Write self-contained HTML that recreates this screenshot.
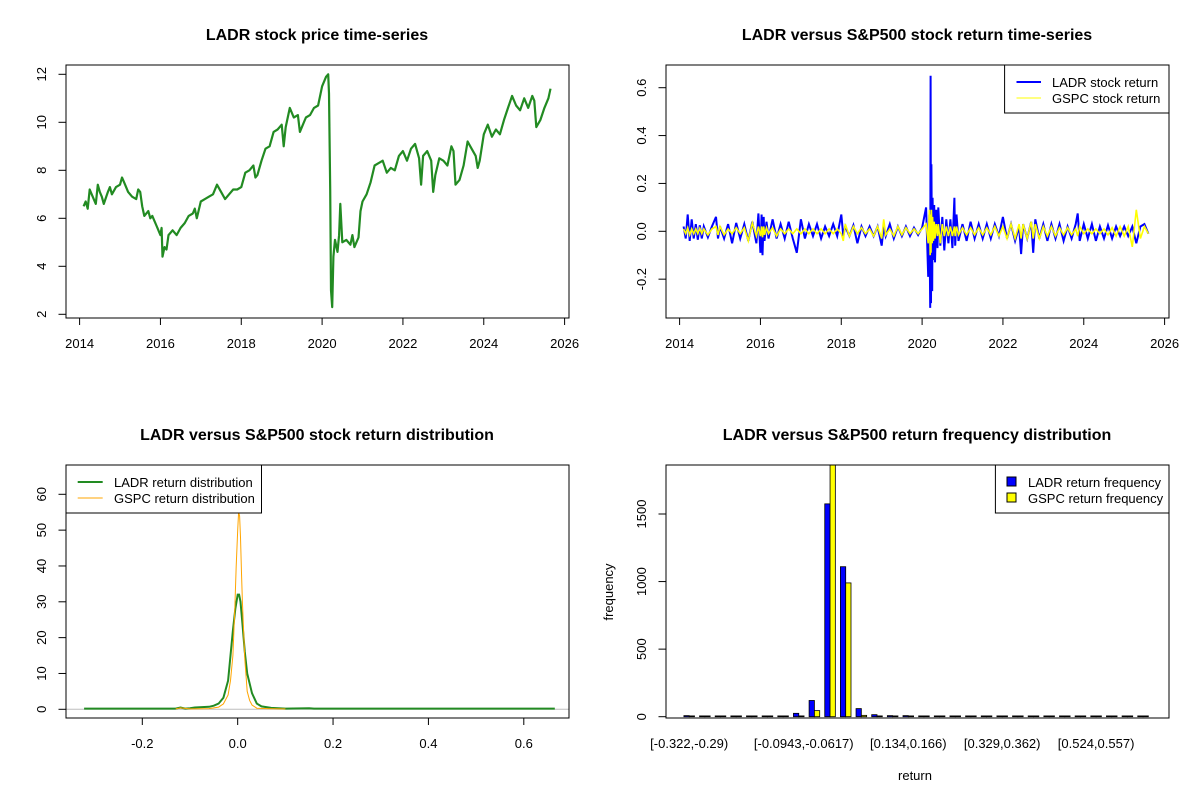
<!DOCTYPE html>
<html><head><meta charset="utf-8"><style>
body{margin:0;background:#fff;}
svg{display:block;font-family:"Liberation Sans",Arial,sans-serif;}
.t{font-weight:bold;font-size:16px;text-anchor:middle;}
.tk{font-size:13px;}
</style></head><body>
<svg id="c" width="1200" height="800" viewBox="0 0 1200 800">
<rect width="1200" height="800" fill="#fff"/>
</svg>
<script>
// ---- data ----
const priceTimes = [2014.1,2014.15,2014.2,2014.25,2014.3,2014.4,2014.45,2014.5,2014.55,2014.6,2014.7,2014.75,2014.8,2014.9,2015.0,2015.05,2015.1,2015.2,2015.3,2015.4,2015.45,2015.5,2015.55,2015.6,2015.7,2015.75,2015.8,2015.9,2016.0,2016.03,2016.05,2016.1,2016.15,2016.2,2016.3,2016.4,2016.5,2016.6,2016.7,2016.8,2016.85,2016.9,2017.0,2017.1,2017.2,2017.3,2017.4,2017.5,2017.6,2017.7,2017.8,2017.9,2018.0,2018.1,2018.2,2018.3,2018.35,2018.4,2018.5,2018.6,2018.7,2018.8,2018.9,2019.0,2019.05,2019.1,2019.2,2019.3,2019.4,2019.45,2019.5,2019.6,2019.7,2019.8,2019.9,2020.0,2020.1,2020.15,2020.17,2020.2,2020.22,2020.25,2020.28,2020.32,2020.38,2020.42,2020.45,2020.5,2020.6,2020.7,2020.75,2020.8,2020.9,2020.95,2021.0,2021.1,2021.2,2021.3,2021.4,2021.5,2021.6,2021.7,2021.8,2021.9,2022.0,2022.1,2022.2,2022.3,2022.4,2022.45,2022.5,2022.6,2022.7,2022.75,2022.8,2022.9,2023.0,2023.1,2023.2,2023.25,2023.3,2023.4,2023.5,2023.6,2023.7,2023.8,2023.85,2023.9,2024.0,2024.1,2024.2,2024.3,2024.4,2024.5,2024.6,2024.7,2024.8,2024.9,2025.0,2025.1,2025.2,2025.25,2025.3,2025.4,2025.5,2025.6,2025.65];
const priceValues = [6.5,6.7,6.4,7.2,7.0,6.6,7.4,7.1,6.9,6.6,7.1,7.3,7.0,7.3,7.4,7.7,7.5,7.1,6.9,6.8,7.2,7.1,6.5,6.1,6.3,6.0,6.1,5.7,5.3,5.6,4.4,4.8,4.7,5.3,5.5,5.3,5.6,5.8,6.1,6.2,6.4,6.0,6.7,6.8,6.9,7.0,7.4,7.1,6.8,7.0,7.2,7.2,7.3,7.9,8.0,8.2,7.7,7.8,8.4,8.9,9.0,9.6,9.7,9.9,9.0,9.8,10.6,10.2,10.3,9.6,9.8,10.2,10.3,10.6,10.7,11.5,11.9,12.0,11.2,7.2,3.0,2.3,4.4,5.1,4.6,5.3,6.6,5.0,5.1,4.9,5.3,4.8,5.2,6.3,6.7,7.0,7.5,8.2,8.3,8.4,7.9,8.1,8.0,8.6,8.8,8.4,8.9,9.1,8.5,7.4,8.6,8.8,8.4,7.1,7.8,8.5,8.4,8.2,9.0,8.8,7.4,7.6,8.2,9.2,8.9,8.6,8.1,8.4,9.5,9.9,9.4,9.7,9.5,10.1,10.6,11.1,10.7,10.5,11.0,10.6,11.1,10.9,9.8,10.1,10.6,11.0,11.4];

const retTimes = [2014.1,2014.15,2014.2,2014.25,2014.3,2014.35,2014.4,2014.45,2014.5,2014.55,2014.6,2014.7,2014.8,2014.9,2014.95,2015.0,2015.1,2015.2,2015.3,2015.4,2015.5,2015.6,2015.7,2015.8,2015.9,2015.95,2016.0,2016.03,2016.05,2016.08,2016.1,2016.15,2016.2,2016.3,2016.4,2016.5,2016.6,2016.7,2016.8,2016.9,2017.0,2017.1,2017.2,2017.3,2017.4,2017.5,2017.6,2017.7,2017.8,2017.9,2018.0,2018.05,2018.1,2018.2,2018.3,2018.4,2018.5,2018.6,2018.7,2018.8,2018.9,2019.0,2019.05,2019.1,2019.2,2019.3,2019.4,2019.5,2019.6,2019.7,2019.8,2019.9,2020.0,2020.1,2020.15,2020.18,2020.2,2020.21,2020.22,2020.23,2020.25,2020.26,2020.28,2020.3,2020.32,2020.35,2020.38,2020.4,2020.45,2020.5,2020.55,2020.6,2020.65,2020.7,2020.75,2020.8,2020.82,2020.85,2020.9,2021.0,2021.1,2021.2,2021.3,2021.4,2021.5,2021.6,2021.7,2021.8,2021.9,2022.0,2022.1,2022.2,2022.3,2022.4,2022.45,2022.5,2022.6,2022.7,2022.75,2022.8,2022.9,2023.0,2023.1,2023.2,2023.3,2023.4,2023.5,2023.6,2023.7,2023.8,2023.85,2023.9,2024.0,2024.1,2024.2,2024.3,2024.4,2024.5,2024.6,2024.7,2024.8,2024.9,2025.0,2025.1,2025.2,2025.3,2025.4,2025.5,2025.6,2025.65];
const ladrReturns = [0.02,-0.03,0.07,-0.04,0.05,-0.03,0.03,-0.035,0.025,-0.03,0.02,-0.025,0.02,0.06,-0.03,0.02,-0.03,0.03,-0.05,0.035,-0.03,0.03,-0.04,0.04,-0.05,0.075,-0.09,0.07,-0.1,0.06,-0.04,0.04,-0.03,0.05,-0.03,0.03,-0.03,0.04,-0.03,-0.09,0.05,-0.03,0.03,-0.02,0.03,-0.03,0.02,-0.02,0.03,-0.02,0.07,-0.02,0.02,-0.02,0.025,-0.05,0.02,-0.02,0.02,-0.02,0.02,-0.06,0.02,-0.02,0.03,-0.03,0.02,-0.02,0.02,-0.02,0.015,-0.015,0.015,0.1,-0.19,0.07,-0.32,0.65,-0.3,0.28,-0.25,0.14,-0.12,0.11,-0.13,0.09,-0.07,0.1,-0.06,0.06,-0.08,0.05,-0.05,0.05,-0.07,0.14,-0.06,0.07,-0.04,0.03,-0.04,0.04,-0.03,0.03,-0.03,0.03,-0.03,0.03,-0.02,0.06,-0.03,0.03,-0.04,0.02,-0.095,0.03,-0.03,0.04,-0.09,0.05,-0.03,0.03,-0.04,0.03,-0.03,0.03,-0.04,0.02,-0.03,0.03,0.075,-0.04,0.03,-0.03,0.03,-0.04,0.02,-0.03,0.025,-0.03,0.02,-0.02,0.02,-0.02,0.02,-0.05,0.02,0.03,-0.01];
const gspcReturns = [0.01,-0.01,0.015,-0.015,0.01,-0.01,0.01,-0.01,0.012,-0.01,0.01,-0.015,0.01,0.02,-0.015,0.02,-0.015,0.01,-0.01,0.015,-0.01,0.015,-0.04,0.035,-0.02,0.02,-0.02,0.02,-0.025,0.02,-0.015,0.015,-0.01,0.015,-0.02,0.01,-0.01,0.01,-0.01,0.01,-0.01,0.01,-0.01,0.01,-0.01,0.01,-0.01,0.01,-0.01,0.01,-0.01,-0.04,0.03,-0.02,0.02,-0.01,0.015,-0.01,0.01,-0.02,0.02,-0.03,0.05,-0.015,0.01,-0.02,0.02,-0.015,0.015,-0.01,0.01,-0.01,0.01,0.03,-0.05,0.09,-0.1,0.07,-0.09,0.09,-0.05,0.06,-0.04,0.04,-0.03,0.03,-0.02,0.03,-0.05,0.03,-0.02,0.02,-0.02,0.02,-0.02,0.02,-0.02,0.02,-0.015,0.015,-0.015,0.015,-0.015,0.015,-0.015,0.015,-0.015,0.02,-0.02,0.02,-0.03,0.03,-0.03,0.03,-0.03,0.03,-0.03,0.04,-0.03,0.03,-0.03,0.02,-0.02,0.02,-0.02,0.015,-0.015,0.015,-0.015,0.01,-0.02,0.02,-0.01,0.01,-0.01,0.01,-0.01,0.01,-0.015,0.015,-0.02,0.02,-0.02,0.02,-0.065,0.09,-0.03,0.02,-0.01];

const ladrDensX = [-0.322,-0.13,-0.12,-0.11,-0.1,-0.09,-0.06,-0.05,-0.04,-0.03,-0.02,-0.015,-0.01,-0.005,0.0,0.003,0.006,0.01,0.015,0.02,0.03,0.04,0.05,0.07,0.1,0.15,0.16,0.665];
const ladrDensY = [0.2,0.2,0.5,0.2,0.3,0.5,0.7,1.0,1.6,3.2,8,15,22,28,32,32,30,24,16,10,4.5,1.6,0.8,0.4,0.2,0.3,0.2,0.2];
const gspcDensX = [-0.13,-0.12,-0.1,-0.06,-0.04,-0.03,-0.02,-0.015,-0.01,-0.006,-0.003,0.0,0.002,0.004,0.006,0.008,0.01,0.015,0.02,0.025,0.03,0.04,0.06,0.09,0.1];
const gspcDensY = [0.1,0.4,0.1,0.2,0.6,1.5,4,8,15,28,40,50,55,54,48,38,30,14,5,2.5,1.2,0.3,0.2,0.1,0.1];

const binLabels = ["[-0.322,-0.29)","[-0.0943,-0.0617)","[0.134,0.166)","[0.329,0.362)","[0.524,0.557)"];
const binLabelIdx = [0,7,14,20,26];
const ladrFreq = [8,0,0,0,0,5,5,25,120,1575,1110,60,15,8,8,0,0,0,0,0,0,0,0,0,0,0,0,0,0,0];
const gspcFreq = [0,0,0,0,0,0,0,2,45,1870,990,10,5,3,0,0,0,0,0,0,0,0,0,0,0,0,0,0,0,0];

// ---- drawing ----
const svg = document.getElementById('c');
const NS = 'http://www.w3.org/2000/svg';
function el(tag, attrs, parent){const e=document.createElementNS(NS,tag);for(const k in attrs)e.setAttribute(k,attrs[k]);(parent||svg).appendChild(e);return e;}
function txt(s,x,y,cls,parent,rot){const t=el('text',{x:x,y:y,class:cls},parent);t.textContent=s;if(rot)t.setAttribute('transform','rotate(-90 '+x+' '+y+')');return t;}
function lin(d0,d1,r0,r1){return v=>r0+(v-d0)/(d1-d0)*(r1-r0);}
function box(x0,y0,x1,y1,name){const r=el('rect',{x:x0,y:y0,width:x1-x0,height:y1-y0,fill:'none',stroke:'#000','stroke-width':1});

}
function xAxis(g,ticks,sx,yb,labels){ticks.forEach((t,i)=>{el('line',{x1:sx(t),x2:sx(t),y1:yb,y2:yb+7,stroke:'#000'},g);const l=txt(labels?labels[i]:String(t),sx(t),yb+30,'tk',g);l.setAttribute('text-anchor','middle');});
el('line',{x1:sx(ticks[0]),x2:sx(ticks[ticks.length-1]),y1:yb,y2:yb,stroke:'#000'},g);}
function yAxis(g,ticks,sy,xl,labels){ticks.forEach((t,i)=>{el('line',{x1:xl,x2:xl-7.5,y1:sy(t),y2:sy(t),stroke:'#000'},g);const l=txt(labels?labels[i]:String(t),xl-20,sy(t),'tk',g,true);l.setAttribute('text-anchor','middle');});
el('line',{x1:xl,x2:xl,y1:sy(ticks[0]),y2:sy(ticks[ticks.length-1]),stroke:'#000'},g);}
function pts(xs,ys,sx,sy){return xs.map((x,i)=>sx(x).toFixed(1)+','+sy(ys[i]).toFixed(1)).join(' ');}

// Panel 1
const g1=el('g',{});
txt('LADR stock price time-series',317,40,'t',g1);
const sx1=lin(2014,2026,79.6,564.6), sy1=lin(2,12,314.3,74.3);
const p1=el('polyline',{points:pts(priceTimes,priceValues,sx1,sy1),fill:'none',stroke:'#228B22','stroke-width':2.2,'stroke-linejoin':'round'},g1);

box(66,65,569,318,'price-plot-box');
xAxis(g1,[2014,2016,2018,2020,2022,2024,2026],sx1,318);
yAxis(g1,[2,4,6,8,10,12],sy1,66);

// Panel 2
const g2=el('g',{});
txt('LADR versus S&P500 stock return time-series',917,40,'t',g2);
const sx2=lin(2014,2026,679.6,1164.6), sy2=lin(0,0.6,231.3,87.7);
const p2=el('polyline',{points:pts(retTimes,ladrReturns,sx2,sy2),fill:'none',stroke:'#0000ff','stroke-width':2},g2);

const p3=el('polyline',{points:pts(retTimes,gspcReturns,sx2,sy2),fill:'none',stroke:'#ffff00','stroke-width':1.6},g2);

box(666,65,1169,318,'return-plot-box');
xAxis(g2,[2014,2016,2018,2020,2022,2024,2026],sx2,318);
yAxis(g2,[-0.2,0,0.2,0.4,0.6],sy2,666,['-0.2','0.0','0.2','0.4','0.6']);
const lg2=el('g',{},g2);
el('rect',{x:1004.6,y:65,width:164.4,height:48,fill:'#fff',stroke:'#000'},lg2);
el('line',{x1:1016.5,x2:1041,y1:82,y2:82,stroke:'#0000ff','stroke-width':2},lg2);
el('line',{x1:1016.5,x2:1041,y1:98,y2:98,stroke:'#ffff00','stroke-width':1},lg2);
txt('LADR stock return',1052,87,'tk',lg2);txt('GSPC stock return',1052,103,'tk',lg2);

// Panel 3
const g3=el('g',{});
txt('LADR versus S&P500 stock return distribution',317,440,'t',g3);
const sx3=lin(-0.2,0.6,142.3,523.8), sy3=lin(0,60,709.3,494.3);
el('line',{x1:66,x2:569,y1:sy3(0),y2:sy3(0),stroke:'#bebebe'},g3);
const p4=el('polyline',{points:pts(ladrDensX,ladrDensY,sx3,sy3),fill:'none',stroke:'#228B22','stroke-width':2},g3);

const p5=el('polyline',{points:pts(gspcDensX,gspcDensY,sx3,sy3),fill:'none',stroke:'#ffa500','stroke-width':1},g3);

box(66,465,569,718,'density-plot-box');
xAxis(g3,[-0.2,0,0.2,0.4,0.6],sx3,718,['-0.2','0.0','0.2','0.4','0.6']);
yAxis(g3,[0,10,20,30,40,50,60],sy3,66);
const lg3=el('g',{},g3);
el('rect',{x:66,y:465,width:195.5,height:48,fill:'#fff',stroke:'#000'},lg3);
el('line',{x1:77.7,x2:102.7,y1:482,y2:482,stroke:'#228B22','stroke-width':2},lg3);
el('line',{x1:77.7,x2:102.7,y1:498,y2:498,stroke:'#ffa500','stroke-width':1},lg3);
txt('LADR return distribution',114,487,'tk',lg3);txt('GSPC return distribution',114,503,'tk',lg3);

// Panel 4
const g4=el('g',{});
txt('LADR versus S&P500 return frequency distribution',917,440,'t',g4);
const sy4=lin(0,1500,716.7,514);
const grpC=i=>689.2+i*15.65, bw=5.3;
ladrFreq.forEach((v,i)=>{
 const top=Math.min(Math.max(sy4(v),465),sy4(0)-0.8);
 const b=el('rect',{x:grpC(i)-bw,y:top,width:bw,height:sy4(0)-top,fill:'#0000ff',stroke:'#000','stroke-width':0.8},g4);
 
 const v2=gspcFreq[i];const top2=Math.min(Math.max(sy4(v2),465),sy4(0)-0.8);
 const c=el('rect',{x:grpC(i),y:top2,width:bw,height:sy4(0)-top2,fill:'#ffff00',stroke:'#000','stroke-width':0.8},g4);
 
});
box(666,465,1169,718,'histogram-plot-box');
binLabels.forEach((s,k)=>{const l=txt(s,grpC(binLabelIdx[k])+(k==1?5:0),748,'tk',g4);l.setAttribute('text-anchor','middle');});
yAxis(g4,[0,500,1000,1500],sy4,666);
const yl=txt('frequency',613,592,'tk',g4,true);yl.setAttribute('text-anchor','middle');
const xl=txt('return',915,780,'tk',g4);xl.setAttribute('text-anchor','middle');
const lg4=el('g',{},g4);
el('rect',{x:995.4,y:465,width:173.6,height:48,fill:'#fff',stroke:'#000'},lg4);
el('rect',{x:1007,y:477,width:9,height:9,fill:'#0000ff',stroke:'#000'},lg4);
el('rect',{x:1007,y:493,width:9,height:9,fill:'#ffff00',stroke:'#000'},lg4);
txt('LADR return frequency',1028,487,'tk',lg4);txt('GSPC return frequency',1028,503,'tk',lg4);
</script>
</body></html>
